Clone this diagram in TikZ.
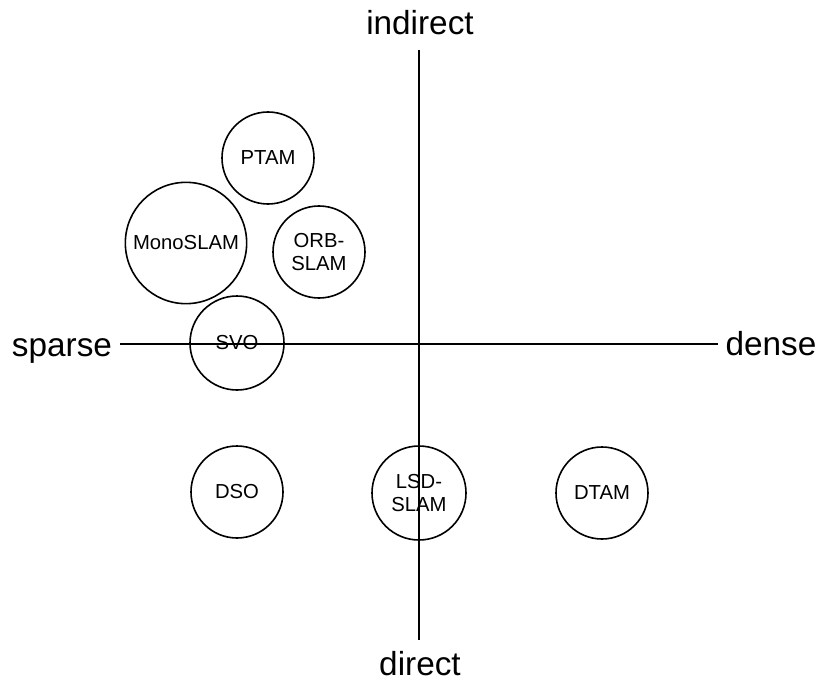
\documentclass[tikz,border=0pt]{standalone}
\usepackage{fontspec}
\setmainfont{Liberation Sans}
\begin{document}
\begin{tikzpicture}[x=0.75pt,y=-0.75pt,
		axis/.style={line width=1.3pt,black},
		axislabel/.style={font=\fontsize{25}{30}\selectfont,inner sep=0pt,anchor=base},
		method/.style={circle,draw,line width=1.2pt,minimum size=69pt,inner sep=0pt,align=center,font=\fontsize{15.2}{17.5}\selectfont}]
	\useasboundingbox (0,0) rectangle (821,681);
	% axis labels
	\node[axislabel] (indirect) at (420,35) {indirect};
	\node[axislabel] (direct) at (420,675) {direct};
	\node[axislabel] (sparse) at (62,356) {sparse};
	\node[axislabel] (dense) at (771,355) {dense};
	% axes
	\coordinate (top) at (419,50);
	\coordinate (bottom) at (419,640);
	\coordinate (left) at (120,344);
	\coordinate (right) at (718,344);
	\draw[axis] (top) -- (bottom);
	\draw[axis] (left) -- (right);
	% methods
	\node[method] (ptam) at (268,158) {PTAM};
	\node[method,minimum size=91pt] (mono) at (186,243) {MonoSLAM};
	\node[method] (orb) at (319,252) {ORB-\\SLAM};
	\node[method,minimum size=70.5pt] (svo) at (237,343) {SVO};
	\node[method] (dso) at (237,492) {DSO};
	\node[method,minimum size=70.5pt] (lsd) at (419,493) {LSD-\\SLAM};
	\node[method] (dtam) at (602,493) {DTAM};
\end{tikzpicture}
\end{document}
